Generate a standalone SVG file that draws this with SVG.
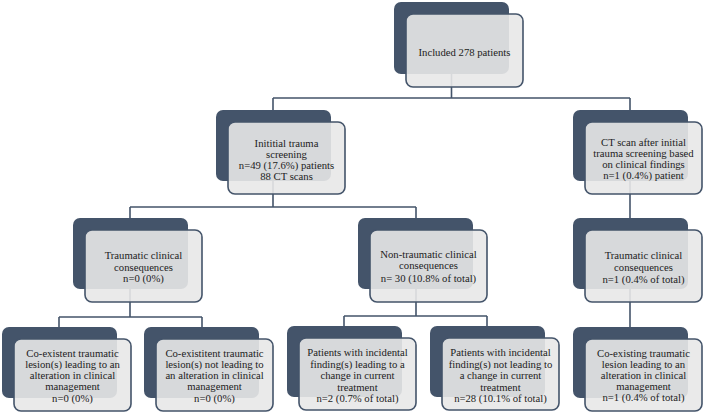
<svg xmlns="http://www.w3.org/2000/svg" width="703" height="413" viewBox="0 0 703 413">
<style>
.back{fill:#44546a;}
.front{fill:#e8e8e8;fill-opacity:0.9;stroke:#44546a;stroke-width:1.6;}
.conn{fill:none;stroke:#44546a;stroke-width:1.6;}
.t{font-family:'Liberation Serif','DejaVu Serif',serif;font-size:10.7px;fill:#222;text-anchor:middle;}
</style>
<rect width="703" height="413" fill="#ffffff"/>
<g id="connectors">
<path class="conn" d="M451.5,74 V98 M273,98 H630 M273,98 V110 M630,98 V110"/>
<path class="conn" d="M273,181 V207 M130,207 H416 M130,207 V218 M416,207 V218"/>
<path class="conn" d="M630,181 V218"/>
<path class="conn" d="M130,289 V317 M59,317 H202 M59,317 V327 M202,317 V327"/>
<path class="conn" d="M416,289 V316 M344,316 H487 M344,316 V326 M487,316 V326"/>
<path class="conn" d="M630,289 V327"/>
</g>
<g id="n_included">
<rect class="back" x="394" y="2" width="115" height="72" rx="7"/>
<rect class="front" x="406" y="14" width="117" height="73" rx="7"/>
<text class="t" font-family="Liberation Serif, serif" x="464.5" y="55.5">Included 278 patients</text>
</g>
<g id="n_initial" font-family="Liberation Serif, serif">
<rect class="back" x="216" y="110" width="115" height="71" rx="7"/>
<rect class="front" x="228" y="122" width="117" height="72" rx="7"/>
<text class="t" x="286.5" y="146.5">Inititial trauma</text>
<text class="t" x="286.5" y="157.5">screening</text>
<text class="t" x="286.5" y="168.5">n=49 (17.6%) patients</text>
<text class="t" x="286.5" y="179.5">88 CT scans</text>
</g>
<g id="n_ctafter">
<rect class="back" x="573" y="110" width="115" height="71" rx="7"/>
<rect class="front" x="585" y="122" width="117" height="72" rx="7"/>
<text class="t" x="643.5" y="146">CT scan after initial</text>
<text class="t" x="643.5" y="157">trauma screening based</text>
<text class="t" x="643.5" y="168">on clinical findings</text>
<text class="t" x="643.5" y="179">n=1 (0.4%) patient</text>
</g>
<g id="n_trauma_left">
<rect class="back" x="73" y="218" width="115" height="71" rx="7"/>
<rect class="front" x="85" y="230" width="117" height="72" rx="7"/>
<text class="t" x="143.5" y="259">Traumatic clinical</text>
<text class="t" x="143.5" y="270.5">consequences</text>
<text class="t" x="143.5" y="282">n=0 (0%)</text>
</g>
<g id="n_nontrauma">
<rect class="back" x="358" y="218" width="115" height="71" rx="7"/>
<rect class="front" x="370" y="230" width="117" height="72" rx="7"/>
<text class="t" x="428.5" y="258">Non-traumatic clinical</text>
<text class="t" x="428.5" y="269">consequences</text>
<text class="t" x="428.5" y="282">n= 30 (10.8% of total)</text>
</g>
<g id="n_trauma_right">
<rect class="back" x="573" y="218" width="115" height="71" rx="7"/>
<rect class="front" x="585" y="230" width="117" height="72" rx="7"/>
<text class="t" x="643.5" y="259">Traumatic clinical</text>
<text class="t" x="643.5" y="270.5">consequences</text>
<text class="t" x="643.5" y="283">n=1 (0.4% of total)</text>
</g>
<g id="n_b1">
<rect class="back" x="2" y="327" width="115" height="71" rx="7"/>
<rect class="front" x="14" y="339" width="117" height="72" rx="7"/>
<text class="t" x="72.5" y="357">Co-existent traumatic</text>
<text class="t" x="72.5" y="368">lesion(s) leading to an</text>
<text class="t" x="72.5" y="379">alteration in clinical</text>
<text class="t" x="72.5" y="390">management</text>
<text class="t" x="72.5" y="401.5">n=0 (0%)</text>
</g>
<g id="n_b2">
<rect class="back" x="144" y="327" width="115" height="71" rx="7"/>
<rect class="front" x="156" y="339" width="117" height="72" rx="7"/>
<text class="t" x="214.5" y="357">Co-existitent traumatic</text>
<text class="t" x="214.5" y="368">lesion(s) not leading to</text>
<text class="t" x="214.5" y="379">an alteration in clinical</text>
<text class="t" x="214.5" y="390">management</text>
<text class="t" x="214.5" y="401.5">n=0 (0%)</text>
</g>
<g id="n_b3">
<rect class="back" x="287" y="326" width="115" height="71" rx="7"/>
<rect class="front" x="299" y="338" width="117" height="72" rx="7"/>
<text class="t" x="357.5" y="356">Patients with incidental</text>
<text class="t" x="357.5" y="367.5">finding(s) leading to a</text>
<text class="t" x="357.5" y="379">change in current</text>
<text class="t" x="357.5" y="390.5">treatment</text>
<text class="t" x="357.5" y="401.5">n=2 (0.7% of total)</text>
</g>
<g id="n_b4">
<rect class="back" x="430" y="326" width="115" height="71" rx="7"/>
<rect class="front" x="442" y="338" width="117" height="72" rx="7"/>
<text class="t" x="500.5" y="356">Patients with incidental</text>
<text class="t" x="500.5" y="367.5">finding(s) not leading to</text>
<text class="t" x="500.5" y="379">a change in current</text>
<text class="t" x="500.5" y="390.5">treatment</text>
<text class="t" x="500.5" y="401.5">n=28 (10.1% of total)</text>
</g>
<g id="n_b5">
<rect class="back" x="573" y="327" width="115" height="71" rx="7"/>
<rect class="front" x="585" y="339" width="117" height="72" rx="7"/>
<text class="t" x="643.5" y="357">Co-existing traumatic</text>
<text class="t" x="643.5" y="367.5">lesion leading to an</text>
<text class="t" x="643.5" y="379">alteration in clinical</text>
<text class="t" x="643.5" y="389.5">management</text>
<text class="t" x="643.5" y="401">n=1 (0.4% of total)</text>
</g>
</svg>
